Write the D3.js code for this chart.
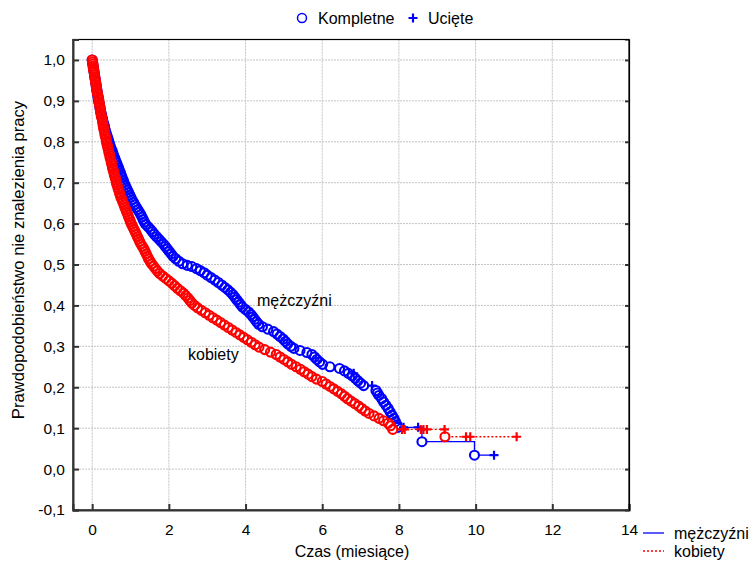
<!DOCTYPE html>
<html>
<head>
<meta charset="utf-8">
<script src="https://cdn.jsdelivr.net/npm/d3@7"></script>
<style>
  body { margin: 0; background: #fff; }
  svg text { font-family: "Liberation Sans", Arial, sans-serif; fill: #000; }
</style>
</head>
<body>
<script>
// Kaplan-Meier: men (blue) and women (red), [time in months, survival]
const menEvents = [
  [0.00,1.000],[0.01,0.994],[0.02,0.988],[0.03,0.982],[0.04,0.976],[0.05,0.970],[0.06,0.964],[0.07,0.958],
  [0.08,0.952],[0.09,0.946],[0.10,0.940],[0.11,0.934],[0.12,0.928],[0.13,0.922],[0.14,0.916],[0.15,0.910],
  [0.16,0.904],[0.17,0.898],[0.19,0.892],[0.20,0.886],[0.21,0.880],[0.22,0.874],[0.24,0.868],[0.25,0.862],
  [0.27,0.856],[0.28,0.850],[0.30,0.844],[0.32,0.838],[0.33,0.832],[0.35,0.826],[0.37,0.820],[0.39,0.814],
  [0.41,0.808],[0.43,0.802],[0.45,0.796],[0.47,0.790],[0.49,0.784],[0.52,0.778],[0.54,0.772],[0.56,0.766],
  [0.59,0.760],[0.61,0.754],[0.64,0.748],[0.66,0.742],[0.69,0.736],[0.71,0.730],[0.74,0.724],[0.76,0.718],
  [0.78,0.712],[0.81,0.706],[0.83,0.700],[0.86,0.694],[0.89,0.688],[0.92,0.682],[0.95,0.676],[0.98,0.670],
  [1.01,0.664],[1.04,0.658],[1.08,0.652],[1.11,0.646],[1.15,0.640],[1.19,0.634],[1.23,0.628],[1.27,0.622],
  [1.30,0.616],[1.33,0.610],[1.36,0.604],[1.40,0.598],[1.46,0.592],[1.52,0.586],[1.57,0.580],[1.62,0.574],
  [1.68,0.568],[1.74,0.562],[1.80,0.556],[1.86,0.550],[1.91,0.544],[1.96,0.538],[2.01,0.532],[2.06,0.526],
  [2.11,0.520],[2.18,0.514],[2.26,0.508],[2.36,0.502],[2.48,0.498],[2.60,0.495],[2.72,0.490],[2.82,0.485],
  [2.92,0.480],[3.00,0.474],[3.10,0.468],[3.20,0.462],[3.29,0.456],[3.38,0.450],[3.46,0.444],[3.54,0.438],
  [3.61,0.432],[3.67,0.426],[3.72,0.420],[3.77,0.414],[3.82,0.408],[3.87,0.402],[3.92,0.396],[4.00,0.390],
  [4.08,0.384],[4.14,0.378],[4.19,0.372],[4.24,0.366],[4.29,0.360],[4.34,0.354],[4.44,0.348],[4.58,0.342],
  [4.73,0.336],[4.82,0.330],[4.90,0.324],[4.98,0.318],[5.04,0.312],[5.10,0.306],[5.18,0.300],[5.26,0.295],
  [5.42,0.290],[5.60,0.285],[5.73,0.280],[5.80,0.274],[5.86,0.268],[5.93,0.262],[6.01,0.256],[6.20,0.250],
  [6.45,0.246],[6.58,0.240],[6.68,0.234],[6.78,0.228],[6.86,0.222],[6.93,0.216],[7.00,0.210],[7.08,0.204],
  [7.40,0.192],[7.44,0.186],[7.48,0.180],[7.55,0.172],[7.60,0.164],[7.66,0.156],[7.72,0.148],[7.77,0.140],
  [7.82,0.132],[7.87,0.124],[7.91,0.116],[7.95,0.108],[7.97,0.102],[8.60,0.067],[9.97,0.034]
];
const menCensored = [[6.82,0.234],[7.30,0.204],[8.12,0.102],[8.50,0.102],[10.48,0.034]];

const womenEvents = [
  [0.00,1.000],[0.01,0.995],[0.02,0.990],[0.025,0.985],[0.03,0.980],[0.04,0.975],[0.05,0.970],[0.06,0.964],
  [0.07,0.958],[0.08,0.952],[0.09,0.946],[0.10,0.940],[0.11,0.934],[0.12,0.928],[0.13,0.922],[0.14,0.916],
  [0.16,0.910],[0.17,0.904],[0.18,0.898],[0.19,0.892],[0.20,0.886],[0.21,0.880],[0.22,0.874],[0.23,0.868],
  [0.24,0.862],[0.26,0.856],[0.27,0.850],[0.28,0.844],[0.29,0.838],[0.30,0.832],[0.32,0.826],[0.33,0.820],
  [0.34,0.814],[0.36,0.808],[0.37,0.802],[0.38,0.796],[0.40,0.790],[0.41,0.784],[0.43,0.778],[0.44,0.772],
  [0.46,0.766],[0.47,0.760],[0.49,0.754],[0.50,0.748],[0.52,0.742],[0.53,0.736],[0.55,0.730],[0.57,0.724],
  [0.58,0.718],[0.60,0.712],[0.62,0.706],[0.63,0.700],[0.65,0.694],[0.67,0.688],[0.69,0.682],[0.71,0.676],
  [0.73,0.670],[0.75,0.664],[0.78,0.658],[0.80,0.652],[0.83,0.646],[0.85,0.640],[0.88,0.634],[0.90,0.628],
  [0.93,0.622],[0.95,0.616],[0.98,0.610],[1.00,0.604],[1.03,0.598],[1.06,0.592],[1.09,0.586],[1.12,0.580],
  [1.15,0.574],[1.18,0.568],[1.21,0.562],[1.24,0.556],[1.27,0.550],[1.31,0.544],[1.35,0.538],[1.38,0.532],
  [1.41,0.526],[1.44,0.520],[1.47,0.514],[1.51,0.508],[1.55,0.502],[1.60,0.496],[1.65,0.490],[1.70,0.484],
  [1.76,0.478],[1.84,0.472],[1.92,0.466],[2.00,0.460],[2.08,0.454],[2.15,0.448],[2.22,0.442],[2.30,0.436],
  [2.38,0.430],[2.44,0.424],[2.50,0.418],[2.55,0.412],[2.60,0.406],[2.67,0.400],[2.75,0.394],[2.85,0.388],
  [2.95,0.382],[3.05,0.376],[3.15,0.370],[3.25,0.364],[3.35,0.358],[3.45,0.352],[3.55,0.346],[3.65,0.340],
  [3.75,0.334],[3.85,0.328],[3.95,0.322],[4.05,0.316],[4.15,0.310],[4.25,0.304],[4.35,0.298],[4.50,0.292],
  [4.65,0.286],[4.80,0.280],[4.90,0.274],[5.00,0.268],[5.10,0.262],[5.20,0.256],[5.32,0.250],[5.43,0.244],
  [5.53,0.238],[5.63,0.232],[5.73,0.226],[5.85,0.220],[6.00,0.214],[6.10,0.208],[6.20,0.202],[6.30,0.196],
  [6.40,0.190],[6.50,0.184],[6.58,0.178],[6.66,0.172],[6.75,0.166],[6.85,0.160],[6.95,0.154],[7.03,0.148],
  [7.12,0.142],[7.22,0.136],[7.35,0.130],[7.48,0.124],[7.60,0.118],[7.72,0.112],[7.78,0.106],[7.84,0.097],
  [9.20,0.079]
];
const womenCensored = [[8.08,0.097],[8.15,0.097],[8.57,0.097],[8.64,0.097],[8.73,0.097],[9.19,0.097],
  [9.75,0.079],[9.86,0.079],[11.07,0.079]];

const xTicks = [0, 2, 4, 6, 8, 10, 12, 14];
const yTicks = [-0.1, 0, 0.1, 0.2, 0.3, 0.4, 0.5, 0.6, 0.7, 0.8, 0.9, 1.0];

const W = 750, H = 562;
const pLeft = 73, pRight = 629, pTop = 39.5, pBottom = 510;

const svg = d3.select("body").append("svg").attr("width", W).attr("height", H);

const x = d3.scaleLinear().domain([-0.5, 14]).range([pLeft, pRight]);
const y = d3.scaleLinear().domain([-0.1, 1.05]).range([pBottom, pTop]);
const fmt = d => d3.format(".1f")(d).replace(".", ",").replace("\u2212", "-");

// grid
svg.append("g").selectAll("line").data(xTicks.filter(d => d < 14)).enter().append("line")
  .attr("x1", d => x(d)).attr("x2", d => x(d)).attr("y1", pTop).attr("y2", pBottom)
  .attr("stroke", "#c4c4c4").attr("stroke-dasharray", "2,1").attr("stroke-width", 1);
svg.append("g").selectAll("line").data(yTicks.filter(d => d > -0.1)).enter().append("line")
  .attr("x1", pLeft).attr("x2", pRight).attr("y1", d => y(d)).attr("y2", d => y(d))
  .attr("stroke", "#c4c4c4").attr("stroke-dasharray", "2,1").attr("stroke-width", 1);

// frame
svg.append("rect").attr("x", pLeft).attr("y", pTop).attr("width", pRight - pLeft).attr("height", pBottom - pTop)
  .attr("fill", "none").attr("stroke", "#000").attr("stroke-width", 1.2);

// axes
const yAxis = d3.axisLeft(y).tickValues(yTicks).tickSize(-6).tickPadding(8).tickFormat(fmt);
const gy = svg.append("g").attr("transform", `translate(${pLeft},0)`).call(yAxis);
const xAxis = d3.axisBottom(x).tickValues(xTicks).tickSize(-6).tickPadding(14).tickFormat(d3.format("d"));
const gx = svg.append("g").attr("transform", `translate(0,${pBottom})`).call(xAxis);
const yAxisR = d3.axisRight(y).tickValues(yTicks).tickSize(-4).tickFormat("");
const gr = svg.append("g").attr("transform", `translate(${pRight},0)`).call(yAxisR);
[gy, gx, gr].forEach(g => {
  g.select(".domain").attr("stroke", "#333").attr("stroke-width", 2);
  g.selectAll(".tick line").attr("stroke", "#333").attr("stroke-width", 2);
  g.selectAll(".tick text").attr("font-size", 15.5).attr("font-family", "Liberation Sans, Arial, sans-serif");
});
gr.select(".domain").attr("stroke", "#000").attr("stroke-width", 1.2);

// axis titles
svg.append("text").attr("x", 352).attr("y", 557).attr("text-anchor", "middle").attr("font-size", 16)
  .text("Czas (miesiące)");
svg.append("text").attr("transform", `translate(24,260) rotate(-90)`)
  .attr("text-anchor", "middle").attr("font-size", 16.6).text("Prawdopodobieństwo nie znalezienia pracy");

// survival curves: line, white marker fills, then marker outlines on top
const series = [
  {ev: menEvents, cens: menCensored, color: "#0000ff", dash: null},
  {ev: womenEvents, cens: womenCensored, color: "#ff0000", dash: "2,2"}
];
const line = d3.line().x(d => x(d[0])).y(d => y(d[1])).curve(d3.curveStepAfter);
const plus = "M-4.5,0H4.5M0,-4.5V4.5";

series.forEach(s => {
  const all = s.ev.concat(s.cens).sort((a, b) => a[0] - b[0]);
  svg.append("path").datum(all).attr("d", line).attr("fill", "none")
    .attr("stroke", s.color).attr("stroke-width", 1.3).attr("stroke-dasharray", s.dash);
  svg.append("g").selectAll("circle").data(s.ev).enter().append("circle")
    .attr("cx", d => x(d[0])).attr("cy", d => y(d[1])).attr("r", 4.5)
    .attr("fill", "#fff").attr("stroke", "none");
  svg.append("g").selectAll("circle").data(s.ev).enter().append("circle")
    .attr("cx", d => x(d[0])).attr("cy", d => y(d[1])).attr("r", 4.5)
    .attr("fill", "none").attr("stroke", s.color).attr("stroke-width", 2.1);
  svg.append("g").selectAll("path").data(s.cens).enter().append("path")
    .attr("d", plus).attr("transform", d => `translate(${x(d[0])},${y(d[1])})`)
    .attr("stroke", s.color).attr("stroke-width", 2.2);
});

// curve labels
svg.append("text").attr("x", 257).attr("y", 306).attr("font-size", 16).text("mężczyźni");
svg.append("text").attr("x", 188).attr("y", 360).attr("font-size", 16).text("kobiety");

// top legend
svg.append("circle").attr("cx", 302).attr("cy", 18).attr("r", 4.5).attr("fill", "#fff")
  .attr("stroke", "#0000ff").attr("stroke-width", 1.5);
svg.append("text").attr("x", 318).attr("y", 23.5).attr("font-size", 16).text("Kompletne");
svg.append("path").attr("d", plus).attr("transform", "translate(413,18)")
  .attr("stroke", "#0000ff").attr("stroke-width", 2.2);
svg.append("text").attr("x", 428).attr("y", 23.5).attr("font-size", 16).text("Ucięte");

// bottom-right legend
const legend = [["mężczyźni", "#0000ff", null], ["kobiety", "#ff0000", "2,2"]];
legend.forEach((l, i) => {
  const ly = 533 + i * 18;
  svg.append("line").attr("x1", 643).attr("x2", 664).attr("y1", ly).attr("y2", ly)
    .attr("stroke", l[1]).attr("stroke-width", 1.3).attr("stroke-dasharray", l[2]);
  svg.append("text").attr("x", 674).attr("y", ly + 5.5).attr("font-size", 16).text(l[0]);
});
</script>
</body>
</html>
